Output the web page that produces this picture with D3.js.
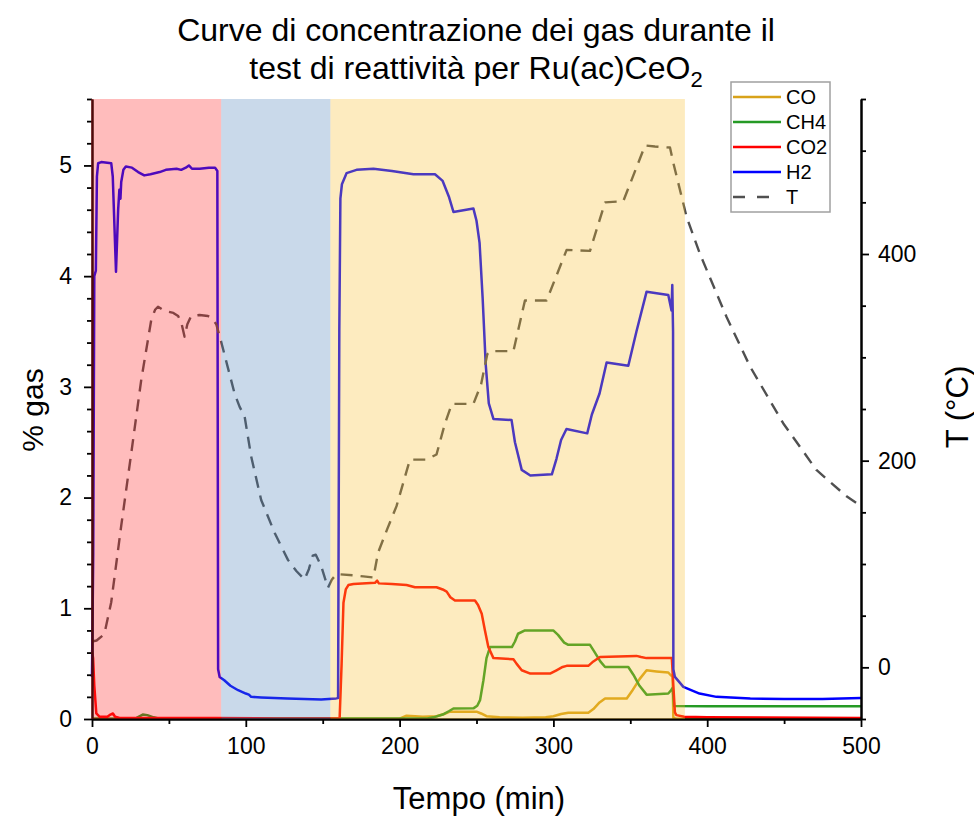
<!DOCTYPE html>
<html>
<head>
<meta charset="utf-8">
<script src="https://cdn.jsdelivr.net/npm/d3@7"></script>
<style>
  body { margin: 0; background: #fff; }
  svg { display: block; }
  text { font-family: "Liberation Sans", Arial, sans-serif; fill: #000; }
</style>
</head>
<body>
<svg id="chart" width="974" height="819"></svg>
<script>
// ---- data: [time (min), value] ----
const seriesNames = ["CO", "CH4", "CO2", "H2", "T"];

const coData = [
  [0, 0.003], [200, 0.003], [204.5, 0.03], [210, 0.025], [215, 0.02], [224, 0.025],
  [229, 0.045], [232.7, 0.066], [250, 0.066], [253, 0.05], [256.5, 0.025], [265, 0.015],
  [280, 0.012], [295, 0.015], [300, 0.025], [305, 0.045], [309.7, 0.057], [322.7, 0.057],
  [326, 0.09], [330, 0.15], [333.6, 0.186], [347.7, 0.186], [351, 0.25], [356, 0.36],
  [360.6, 0.44], [367, 0.43], [374.7, 0.42], [376, 0.40], [377.5, 0.38], [378, 0.01],
  [380, 0.003], [500, 0.003]
];

const ch4Data = [
  [0, 0.003], [25, 0.003], [29, 0.01], [33, 0.04], [36, 0.035], [40, 0.015], [44, 0.003],
  [218, 0.005], [222, 0.015], [228, 0.04], [232, 0.07], [235, 0.095], [248, 0.096],
  [250.5, 0.12], [252.3, 0.17], [254.5, 0.35], [256.5, 0.55], [258.8, 0.65], [273, 0.65],
  [275, 0.7], [277, 0.77], [281.5, 0.80], [299.9, 0.80], [303, 0.76], [307, 0.69],
  [309.7, 0.67], [323.8, 0.67], [327, 0.6], [330.5, 0.52], [333.6, 0.47], [348.7, 0.47],
  [352, 0.40], [356, 0.30], [360.6, 0.22], [374.7, 0.23], [376.5, 0.26], [377.5, 0.28],
  [378, 0.2], [378.5, 0.117], [400, 0.115], [500, 0.115]
];

const co2Data = [
  [0, 0.62], [0.7, 0.55], [1.5, 0.3], [2.8, 0.05], [5, 0.02], [10, 0.02], [12, 0.04],
  [13.6, 0.05], [15, 0.02], [18, 0.01], [40, 0.008], [80, 0.008], [120, 0.005], [161, 0.005],
  [162.3, 0.5], [163.5, 1.05], [165, 1.17], [166.7, 1.21], [170, 1.22], [184, 1.23],
  [185.4, 1.25], [186.5, 1.225], [195, 1.22], [204.5, 1.21], [210, 1.19], [224, 1.19],
  [228, 1.17], [230.6, 1.15], [233, 1.10], [236, 1.07], [249, 1.07], [251, 1.03],
  [253.4, 0.95], [255.5, 0.8], [257.7, 0.65], [261, 0.55], [274, 0.54], [276, 0.5],
  [279.4, 0.44], [285, 0.41], [297.8, 0.41], [302, 0.44], [306, 0.47], [308.6, 0.48],
  [322.7, 0.48], [326, 0.52], [330.3, 0.56], [354, 0.57], [357, 0.56], [360.5, 0.55],
  [377, 0.55], [378, 0.3], [379, 0.06], [380, 0.035], [385, 0.02], [400, 0.015], [500, 0.01]
];

const h2Data = [
  [0, 0.38], [0.8, 1.5], [1.5, 4.0], [2.5, 4.05], [3.2, 4.9], [4, 5.02], [6, 5.03],
  [12.5, 5.02], [13.5, 4.9], [15.6, 4.04], [17, 4.6], [17.8, 4.78], [18.5, 4.7], [19, 4.85],
  [20.4, 4.96], [22, 4.99], [26, 4.98], [30, 4.94], [34, 4.91], [38, 4.92], [44, 4.94],
  [48, 4.96], [55, 4.97], [58, 4.96], [61, 4.98], [63, 5.0], [65, 4.97], [70, 4.97],
  [76, 4.98], [80, 4.98], [81.5, 4.95], [82, 0.45], [83, 0.38], [86, 0.35], [90, 0.3],
  [95, 0.26], [100, 0.23], [102, 0.22], [103.5, 0.2], [110, 0.195], [127, 0.186],
  [149, 0.177], [158.8, 0.186], [160, 0.19], [160.8, 3.5], [161.5, 4.7], [162.5, 4.83],
  [165.5, 4.93], [172, 4.96], [183, 4.97], [195, 4.95], [209, 4.92], [223, 4.92],
  [228, 4.86], [232, 4.72], [235, 4.58], [248, 4.61], [250, 4.5], [252, 4.3], [254, 3.8],
  [256, 3.2], [258, 2.85], [261, 2.71], [272.8, 2.70], [275, 2.5], [279.4, 2.25],
  [285, 2.20], [299, 2.21], [302, 2.35], [305, 2.52], [308.5, 2.62], [322, 2.58],
  [325, 2.75], [330, 2.94], [334.6, 3.22], [348.7, 3.19], [354, 3.5], [360.6, 3.86],
  [374.7, 3.83], [376.8, 3.69], [377.3, 3.92], [377.8, 3.5], [378, 0.45], [379, 0.38],
  [384.5, 0.29], [395, 0.23], [406, 0.2], [428, 0.186], [450, 0.18], [475, 0.18], [500, 0.19]
];

const tempData = [
  [0, 25], [3, 26], [8, 32], [12.5, 63], [19, 137], [25.5, 207], [32, 278], [38.5, 336],
  [41, 346], [42.9, 349], [47, 345], [52.9, 343], [56, 340], [58, 334], [60.2, 320],
  [62, 332], [64.5, 340], [70, 341], [75.4, 340], [78, 338], [80.8, 332], [84, 315],
  [88, 292], [92.7, 265], [96, 252], [99.2, 243], [103.5, 204], [110, 162], [118.8, 130],
  [127.4, 104], [133, 93], [138.2, 85], [141, 95], [143.5, 108], [145.5, 109], [149, 98],
  [153.4, 77], [156, 85], [158.8, 90], [161, 90], [170, 89], [176.4, 88], [183, 87],
  [186, 111], [192, 134], [198, 156], [206.7, 201], [212, 201], [217.5, 201], [224, 206],
  [229.5, 236], [234, 255], [248, 255], [253, 274], [257, 303], [259, 306], [274, 306],
  [281.5, 355], [295.6, 355], [308.6, 404], [323.8, 403], [333.6, 450], [345.4, 451],
  [359.6, 505], [366, 504], [375.8, 503], [378, 488], [386.6, 436], [395.3, 400],
  [412.6, 339], [427.9, 291], [449.5, 236], [471, 191], [490.6, 165.5], [500, 156]
];

// reaction phases (start, end in minutes)
const phaseStart = [0, 84, 155];
const phaseEnd = [84, 155, 385.5];

// axis ranges and tick labels
const timeDomain = [0, 500];
const gasDomain = [0, 5.6];
const tempDomain = [-50, 550];
const timeTicks = [0, 100, 200, 300, 400, 500];
const gasTicks = [0, 1, 2, 3, 4, 5];
const tempTicks = [0, 200, 400];

// ---- styles ----
const seriesColors = ["#d8a21a", "#259a25", "#ff0000", "#0000ff", "#505050"];
const phaseColors = ["rgb(255,32,32)", "rgb(75,128,185)", "rgb(248,188,42)"];
const phaseOpacity = 0.3;
const fontStack = '"Liberation Sans", Arial, sans-serif';

const svg = d3.select("#chart");
const plot = { left: 92, right: 861, top: 99, bottom: 719 };

const x = d3.scaleLinear().domain(timeDomain).range([plot.left, plot.right]);
const yGas = d3.scaleLinear().domain(gasDomain).range([plot.bottom, plot.top]);
const yT = d3.scaleLinear().domain(tempDomain).range([plot.bottom, plot.top]);

// ---- curves ----
const gasLine = d3.line().x(d => x(d[0])).y(d => yGas(d[1]));
const tLine = d3.line().x(d => x(d[0])).y(d => yT(d[1]));

const gasSeries = [coData, ch4Data, co2Data, h2Data];
const curves = svg.append("g").attr("fill", "none").attr("stroke-linejoin", "round");
gasSeries.forEach((data, i) => {
  curves.append("path")
    .attr("d", gasLine(data))
    .attr("stroke", seriesColors[i])
    .attr("stroke-width", 2.5);
});
curves.append("path")
  .attr("d", tLine(tempData))
  .attr("stroke", seriesColors[4])
  .attr("stroke-width", 2.4)
  .attr("stroke-dasharray", "12,8");

// ---- axes ----
function styleAxis(g) {
  g.select(".domain").attr("stroke", "#000").attr("stroke-width", 2);
  g.selectAll(".tick line").attr("stroke", "#000").attr("stroke-width", 1.8);
  g.selectAll(".tick text").style("font-size", "23px").style("font-family", fontStack);
}

const intFormat = d3.format("d");
const timeMinor = d3.range(50, 500, 100);
const gasMinor = d3.range(0, 28.5, 1).map(k => k / 5).filter(v => Math.abs(v - Math.round(v)) > 1e-6);
const tempMinor = d3.range(-50, 551, 50).filter(v => !tempTicks.includes(v));

svg.append("g").attr("transform", `translate(0,${plot.bottom})`)
  .call(d3.axisBottom(x).tickValues(timeMinor).tickSize(5).tickFormat("").tickSizeOuter(0))
  .call(styleAxis);
svg.append("g").attr("transform", `translate(0,${plot.bottom})`)
  .call(d3.axisBottom(x).tickValues(timeTicks).tickFormat(intFormat).tickSize(8).tickPadding(11).tickSizeOuter(0))
  .call(styleAxis);

svg.append("g").attr("transform", `translate(${plot.left},0)`)
  .call(d3.axisLeft(yGas).tickValues(gasMinor).tickSize(5).tickFormat("").tickSizeOuter(0))
  .call(styleAxis);
svg.append("g").attr("transform", `translate(${plot.left},0)`)
  .call(d3.axisLeft(yGas).tickValues(gasTicks).tickFormat(intFormat).tickSize(8).tickPadding(12).tickSizeOuter(0))
  .call(styleAxis);

svg.append("g").attr("transform", `translate(${plot.right},0)`)
  .call(d3.axisRight(yT).tickValues(tempMinor).tickSize(5).tickFormat("").tickSizeOuter(0))
  .call(styleAxis);
svg.append("g").attr("transform", `translate(${plot.right},0)`)
  .call(d3.axisRight(yT).tickValues(tempTicks).tickFormat(intFormat).tickSize(8).tickPadding(9).tickSizeOuter(0))
  .call(styleAxis);

// ---- translucent phase bands over the curves ----
svg.append("g").selectAll("rect")
  .data(phaseStart.map((s, i) => ({ s, e: phaseEnd[i], i })))
  .join("rect")
  .attr("x", d => x(d.s) - (d.i === 0 ? 1 : 0))
  .attr("y", plot.top)
  .attr("width", d => x(d.e) - x(d.s) + (d.i === 0 ? 1 : 0))
  .attr("height", plot.bottom - plot.top)
  .attr("fill", d => phaseColors[d.i])
  .attr("fill-opacity", phaseOpacity);

// ---- legend ----
const legend = svg.append("g").attr("transform", "translate(731,82)");
legend.append("rect")
  .attr("width", 99).attr("height", 130)
  .attr("fill", "#fff").attr("stroke", "#a0a0a0").attr("stroke-width", 1.5);
seriesNames.forEach((name, i) => {
  const cy = 15 + i * 25;
  legend.append("line")
    .attr("x1", 2).attr("x2", 50).attr("y1", cy).attr("y2", cy)
    .attr("stroke", seriesColors[i]).attr("stroke-width", 2.4)
    .attr("stroke-dasharray", i === 4 ? "12,12" : null);
  legend.append("text")
    .attr("x", 55).attr("y", cy)
    .attr("dominant-baseline", "central")
    .style("font-size", "20px")
    .text(name);
});

// ---- titles ----
const title = svg.append("text")
  .attr("text-anchor", "middle")
  .style("font-size", "32px");
title.append("tspan").attr("x", 476).attr("y", 41).text("Curve di concentrazione dei gas durante il");
const line2 = title.append("tspan").attr("x", 476).attr("y", 79);
line2.append("tspan").text("test di reattività per Ru(ac)CeO");
line2.append("tspan").attr("dy", 8).style("font-size", "22px").text("2");

svg.append("text")
  .attr("x", 479).attr("y", 809)
  .attr("text-anchor", "middle")
  .style("font-size", "31px")
  .text("Tempo (min)");

svg.append("text")
  .attr("transform", "translate(32,410) rotate(-90)")
  .attr("text-anchor", "middle")
  .attr("dominant-baseline", "central")
  .style("font-size", "30px")
  .text("% gas");

svg.append("text")
  .attr("transform", "translate(957,407) rotate(-90)")
  .attr("text-anchor", "middle")
  .attr("dominant-baseline", "central")
  .style("font-size", "31px")
  .text("T (°C)");
</script>
</body>
</html>
